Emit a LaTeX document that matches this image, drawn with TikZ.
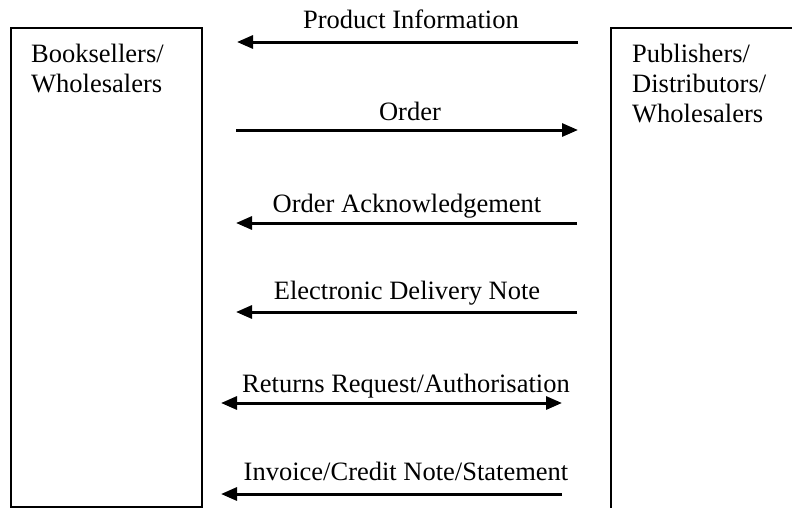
\documentclass[tikz,border=0pt]{standalone}
\usepackage{fontspec}
\setmainfont{Liberation Serif}
\usetikzlibrary{arrows.meta}

\begin{document}
\begin{tikzpicture}[x=1pt,y=-1pt,
		party/.style={draw,line width=1.5pt,anchor=north west,inner sep=0pt},
		lbl/.style={anchor=base,inner sep=0pt,font=\fontsize{26.5}{30}\selectfont},
		msg/.style={line width=3pt},
		>={Triangle[length=16pt,width=13pt]}]
		\useasboundingbox (0,0) rectangle (792,507);
		% the two parties
		\node[party,minimum width=191pt,minimum height=479pt] (buyer) at (10,27) {};
		\node[party,minimum width=220pt,minimum height=520pt] (seller) at (610,27) {};
		\node[lbl,anchor=north west,align=left] (buyertxt) at (31,43.6) {Booksellers/\\Wholesalers};
		\node[lbl,anchor=north west,align=left] (sellertxt) at (632,43.6) {Publishers/\\Distributors/\\Wholesalers};
		% message ends
		\coordinate (info-s) at (578,42);   \coordinate (info-e) at (237,42);
		\coordinate (order-s) at (236,130); \coordinate (order-e) at (578,130);
		\coordinate (ack-s) at (577,223);   \coordinate (ack-e) at (236,223);
		\coordinate (dn-s) at (577,312);    \coordinate (dn-e) at (236,312);
		\coordinate (ret-s) at (221,403);   \coordinate (ret-e) at (562,403);
		\coordinate (inv-s) at (562,494);   \coordinate (inv-e) at (221,494);
		% messages
		\draw[msg,->] (info-s) -- (info-e);
		\draw[msg,->] (order-s) -- (order-e);
		\draw[msg,->] (ack-s) -- (ack-e);
		\draw[msg,->] (dn-s) -- (dn-e);
		\draw[msg,<->] (ret-s) -- (ret-e);
		\draw[msg,->] (inv-s) -- (inv-e);
		\node[lbl] (info) at (411,28) {Product Information};
		\node[lbl] (order) at (410,120) {Order};
		\node[lbl] (ack) at (407,212) {Order Acknowledgement};
		\node[lbl] (dn) at (407,299) {Electronic Delivery Note};
		\node[lbl] (ret) at (406,392) {Returns Request/Authorisation};
		\node[lbl] (inv) at (406,480) {Invoice/Credit Note/Statement};
	\end{tikzpicture}
\end{document}
